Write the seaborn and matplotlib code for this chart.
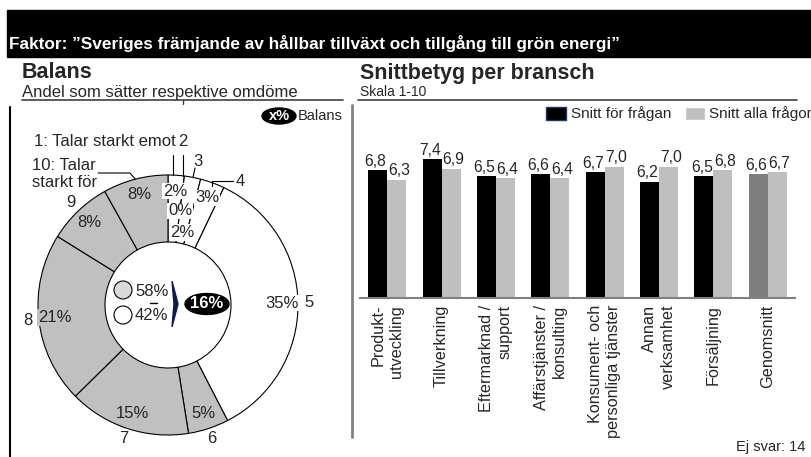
import numpy as np
import pandas as pd
import matplotlib
matplotlib.use('Agg')
import matplotlib.pyplot as plt
from matplotlib.patches import Circle, Ellipse, Polygon, Rectangle, Patch
import seaborn as sns

# --- Data ---
skala_text = ['1: Talar starkt emot', '2', '3', '4', '5', '6', '7', '8', '9', '10: Talar\nstarkt för']
andel = [2, 0, 2, 3, 35, 5, 15, 21, 8, 8]
andel_positiv = 58
andel_negativ = 42
balans = 16

branscher = ['Produkt-\nutveckling', 'Tillverkning', 'Eftermarknad /\nsupport',
             'Affärstjänster /\nkonsulting', 'Konsument- och\npersonliga tjänster',
             'Annan\nverksamhet', 'Försäljning', 'Genomsnitt']
snitt_fragan = [6.8, 7.4, 6.5, 6.6, 6.7, 6.2, 6.5, 6.6]
snitt_alla = [6.3, 6.9, 6.4, 6.4, 7.0, 7.0, 6.8, 6.7]
serier = ['Snitt för frågan', 'Snitt alla frågor']
ej_svar = 14

titel = 'Faktor: \u201dSveriges främjande av hållbar tillväxt och tillgång till grön energi\u201d'

# --- Utseende ---
sns.set_theme(style='white')
plt.rcParams['font.family'] = ['Liberation Sans', 'DejaVu Sans']

GRA = '#c0c0c0'
MORKGRA = '#7f7f7f'

fig = plt.figure(figsize=(8.12, 4.57), dpi=100)

# overlay i pixelkoordinater för rubriker och ramar
ov = fig.add_axes([0, 0, 1, 1], zorder=5)
ov.set_xlim(0, 812)
ov.set_ylim(457, 0)
ov.axis('off')
ov.patch.set_alpha(0)

ov.add_patch(Rectangle((7, 10), 805, 47, color='black'))
ov.text(9, 43, titel, color='white', fontweight='bold', fontsize=12.4, va='center')

ov.text(22, 73, 'Balans', fontweight='bold', fontsize=15.5, va='center')
ov.text(360, 73, 'Snittbetyg per bransch', fontweight='bold', fontsize=15.5, va='center')
ov.text(22, 92, 'Andel som sätter respektive omdöme', fontsize=12, va='center')
ov.text(360, 92, 'Skala 1-10', fontsize=10, va='center')

ov.plot([22, 343], [100, 100], color='#404040', lw=1.2)
ov.plot([183, 183], [100, 104], color='#404040', lw=1)
ov.plot([358, 797], [100, 100], color='#404040', lw=1.2)
ov.plot([10, 10], [107, 457], color='black', lw=1.5)
ov.plot([352, 352], [105, 437], color='#808080', lw=2)

# legend för balans
ov.add_patch(Ellipse((279, 116), 34, 16, color='black'))
ov.text(279, 116, 'x%', color='white', fontweight='bold', fontsize=10.5, ha='center', va='center')
ov.text(298, 116, 'Balans', fontsize=10.5, va='center')

# mitten av ringen
ov.add_patch(Circle((123, 290), 9, fc='#d9d9d9', ec='black', lw=0.8))
ov.text(135, 291, f'{andel_positiv}%', fontsize=12, va='center')
ov.add_patch(Circle((123, 315), 9, fc='white', ec='black', lw=0.8))
ov.text(135, 316, f'{andel_negativ}%', fontsize=12, va='center')
ov.plot([150, 157], [303, 303], color='black', lw=1)
ov.add_patch(Polygon([(172, 281), (178, 304), (172, 327), (174, 304)], color='#0d1b4d'))
ov.add_patch(Ellipse((207, 304), 44, 21, color='black'))
ov.text(207, 304, f'{balans}%', color='white', fontweight='bold', fontsize=12, ha='center', va='center')

ov.text(805, 447, f'Ej svar: {ej_svar}', fontsize=10.5, ha='right', va='center')

# --- Ringdiagram ---
pa = fig.add_axes([18 / 812, 2 / 457, 300 / 812, 300 / 457])
farger = ['white'] * 5 + [GRA] * 5
pa.pie(andel, radius=130, startangle=90, counterclock=False, colors=farger,
       wedgeprops=dict(width=67, edgecolor='black', linewidth=0.8))
pa.set_xlim(-150, 150)
pa.set_ylim(-150, 150)
pa.set_aspect('equal')
pa.patch.set_alpha(0)

andel_arr = np.array(andel, dtype=float)
mitt = (np.cumsum(andel_arr) - andel_arr / 2) / andel_arr.sum() * 2 * np.pi
etikett_r = [114, 95, 74, 114, 114, 114, 114, 114, 114, 114]
for v, th, r, fc in zip(andel, mitt, etikett_r, farger):
    pa.text(r * np.sin(th), r * np.cos(th), f'{v}%', fontsize=12, ha='center', va='center',
            zorder=5, bbox=dict(fc=fc, ec='none', pad=0.5))

# skalsteg 5-9 utanför ringen
for txt, th in zip(skala_text[4:9], mitt[4:9]):
    pa.text(141 * np.sin(th), 141 * np.cos(th), txt, fontsize=12, ha='center', va='center')

# skalsteg med hänvisningslinjer
lk = dict(color='black', lw=0.8)
pa.plot([5, 5], [129.9, 150], **lk)
pa.text(8, 163, skala_text[0], fontsize=12, ha='right', va='center')
pa.plot([15, 15], [129.1, 155], **lk)
pa.text(15, 164, skala_text[1], fontsize=12, ha='center', va='center')
pa.plot([25, 27], [127.6, 137], **lk)
pa.text(30, 144, skala_text[2], fontsize=12, ha='center', va='center')
x4, y4 = 130 * np.sin(mitt[3]), 130 * np.cos(mitt[3])
pa.plot([x4, x4, 65], [y4 - 3, 124, 124], **lk)
pa.text(68, 124, skala_text[3], fontsize=12, ha='left', va='center')
x10, y10 = 130 * np.sin(mitt[9]), 130 * np.cos(mitt[9])
pa.plot([x10, -38, -70], [y10, 132, 132], **lk)
pa.text(-71, 131, skala_text[9], fontsize=12, ha='right', va='center', multialignment='left')

# --- Stapeldiagram ---
df = pd.DataFrame({
    'bransch': branscher * 2,
    'serie': [serier[0]] * len(branscher) + [serier[1]] * len(branscher),
    'varde': snitt_fragan + snitt_alla,
})
ba = fig.add_axes([360 / 812, (457 - 298) / 457, 435 / 812, 187.5 / 457])
sns.barplot(data=df, x='bransch', y='varde', hue='serie', palette=['black', '#bfbfbf'],
            width=0.7, saturation=1, linewidth=0, legend=False, ax=ba)
ba.containers[0][-1].set_facecolor(MORKGRA)
# etiketterna lite isär så de inte krockar
for cont, vals, dx in zip(ba.containers, [snitt_fragan, snitt_alla], [-1.6, 1.6]):
    anns = ba.bar_label(cont, labels=[f'{v:.1f}'.replace('.', ',') for v in vals],
                        padding=1, fontsize=11.3)
    for a in anns:
        a.xyann = (dx, a.xyann[1])

ba.set_ylim(0, 10)
ba.set_yticks([])
ba.set_xlabel('')
ba.set_ylabel('')
sns.despine(ax=ba, left=True)
ba.spines['bottom'].set_color('#808080')
ba.spines['bottom'].set_linewidth(1.5)
ba.patch.set_alpha(0)
ba.set_xticks(range(len(branscher)))
ba.set_xticklabels(branscher, rotation=90, fontsize=11.7, va='top', ha='center',
                   multialignment='right', linespacing=1.3)
ba.tick_params(axis='x', length=0, pad=5)

handles = [Patch(fc='black', ec='#1f3864'), Patch(fc='#bfbfbf')]
fig.legend(handles, serier, loc='center right', bbox_to_anchor=(1.0, 1 - 114 / 457),
           bbox_transform=fig.transFigure, ncol=2, frameon=False, fontsize=11,
           handlelength=1.3, handleheight=0.95, handletextpad=0.3, columnspacing=0.9,
           borderaxespad=0, borderpad=0)

fig.savefig('out.png', dpi=100)
